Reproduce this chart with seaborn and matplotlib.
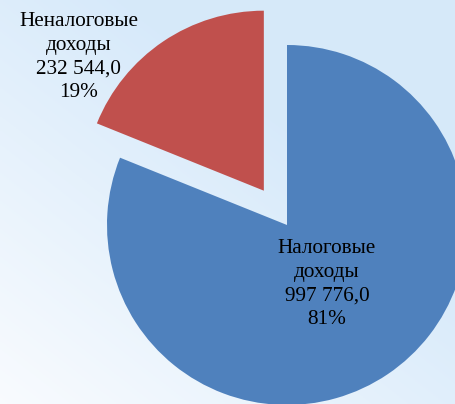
import numpy as np
import matplotlib
matplotlib.use("Agg")
import matplotlib.pyplot as plt
import seaborn as sns

# data
labels = ["Налоговые\nдоходы\n997 776,0\n81%", "Неналоговые\nдоходы\n232 544,0\n19%"]
values = [997776.0, 232544.0]
colors = ["#4f81bd", "#c0504d"]

sns.set_style("white")
plt.rcParams["font.family"] = ["Liberation Serif", "DejaVu Serif"]

fig = plt.figure(figsize=(4.56, 4.04), dpi=100)

# soft gradient background (light blue top-right -> white bottom-left)
bg = fig.add_axes([0, 0, 1, 1])
yy, xx = np.mgrid[0:1:200j, 0:1:200j]
t = np.clip(xx * 0.7 + (1 - yy) * 0.8, 0, 1)
c0 = np.array([0.975, 0.985, 0.998])
c1 = np.array([0.84, 0.915, 0.98])
img = c0 + (c1 - c0) * t[..., None]
bg.imshow(img, extent=[0, 1, 0, 1], aspect="auto", origin="upper")
bg.axis("off")

ax = fig.add_axes([0, 0, 1, 1])
ax.patch.set_alpha(0)
wedges, _ = ax.pie(values, colors=colors, startangle=90, counterclock=False,
                   explode=[0, 0.23], radius=1.0, center=(0, 0),
                   wedgeprops=dict(linewidth=0))
ax.set_xlim(-287 / 180, (456 - 287) / 180)
ax.set_ylim(-(404 - 225) / 180, 225 / 180)
ax.set_aspect("auto")
ax.axis("off")

ax.text(0.222, -0.328, labels[0], ha="center", va="center", fontsize=15.3,
        linespacing=1.32, color="black")
ax.text(-1.156, 0.933, labels[1], ha="center", va="center", fontsize=15.3,
        linespacing=1.32, color="black")

fig.savefig("out.png", dpi=100)
